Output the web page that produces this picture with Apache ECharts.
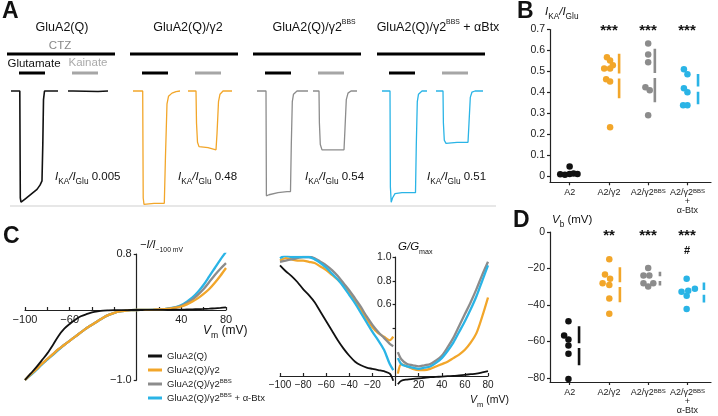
<!DOCTYPE html>
<html><head><meta charset="utf-8">
<script src="https://cdn.jsdelivr.net/npm/echarts@6/dist/echarts.min.js"></script>
<style>html,body{margin:0;padding:0;background:#fff}#c{width:718px;height:416px}</style>
</head><body><div id="c"></div>
<script>
// ================= DATA =================
const constructs = ['GluA2(Q)', 'GluA2(Q)/γ2', 'GluA2(Q)/γ2BBS', 'GluA2(Q)/γ2BBS + α-Btx'];
const panelATitles = ['GluA2(Q)', 'GluA2(Q)/γ2', 'GluA2(Q)/γ2BBS', 'GluA2(Q)/γ2BBS + αBtx'];
const groupLabels = ['A2', 'A2/γ2', 'A2/γ2BBS', 'A2/γ2BBS\n+\nα-Btx'];
const ratioValues = ['0.005', '0.48', '0.54', '0.51'];

// Panel A: application time spans (time units) and normalized currents
const ctzSpan = [0, 108];
const gluSpan = [12, 38];
const kaiSpan = [65, 91];
const traceGlu = [
  [[4,0],[12.8,0],[13.3,-1.0],[14,-1.04],[18,-1.01],[22,-0.98],[26,-0.95],[30,-0.92],[33,-0.88],[35,-0.84],[35.8,-0.5],[36.5,-0.08],[37.5,0],[51,0]],
  [[3,0],[12.7,0],[13.2,-1.0],[14,-1.06],[24,-1.05],[34.3,-1.05],[35.5,-0.6],[37,-0.12],[38.5,-0.05],[42,-0.02],[46,-0.005],[50,0]],
  [[4,0],[13,0],[13.4,-0.98],[16,-0.97],[25,-0.95],[34,-0.94],[37.5,-0.94],[38.3,-0.5],[39.3,-0.1],[40.5,-0.03],[44,0],[55,0]],
  [[5,0],[13,0],[13.4,-0.9],[14.2,-1.04],[15.5,-1.0],[18,-0.96],[25,-0.95],[38.5,-0.95],[39.3,-0.5],[40.3,-0.1],[41.5,-0.03],[45,0],[50,0]]
];
const traceKai = [
  [[61,0],[66,0],[66.5,-0.005],[91,-0.005],[91.5,0],[101,0]],
  [[58,0],[66,0],[66.5,-0.3],[67.5,-0.48],[69,-0.52],[78,-0.53],[86,-0.55],[87,-0.4],[88.5,-0.1],[90,-0.03],[93,0],[102,0]],
  [[60,0],[66,0],[66.4,-0.3],[67.3,-0.5],[69,-0.55],[80,-0.55],[91,-0.55],[92,-0.35],[93.3,-0.08],[95,-0.02],[98,0],[104,0]],
  [[59,0],[66,0],[66.4,-0.3],[67.3,-0.46],[69,-0.49],[80,-0.48],[91,-0.48],[92,-0.3],[93.3,-0.06],[95,-0.01],[98,0],[106,0]]
];

// Panel B: I_KA / I_Glu per cell
const ratioA2      = [0.008, 0.006, 0.010, 0.012, 0.010, 0.045];
const ratioG2      = [0.567, 0.552, 0.529, 0.514, 0.514, 0.462, 0.452, 0.233];
const ratioG2BBS   = [0.633, 0.581, 0.543, 0.424, 0.410, 0.290];
const ratioG2BBSBtx= [0.510, 0.486, 0.419, 0.400, 0.338, 0.338];

// Panel D: Vb (mV) per cell
const vbA2       = [-48.9, -56.7, -58.9, -62.2, -66.7, -80.5];
const vbG2       = [-15.0, -23.3, -25.6, -28.1, -29.0, -36.5, -44.8];
const vbG2BBS    = [-19.7, -23.9, -23.9, -28.1, -29.8, -28.1];
const vbG2BBSBtx = [-25.6, -32.8, -32.2, -31.1, -35.0, -42.2];

// Panel C left: normalized I-V
const ivVm = [-100,-95,-90,-85,-80,-75,-70,-65,-60,-55,-50,-45,-40,-35,-30,-25,-20,-15,-10,-5,0,5,10,15,20,25,30,35,40,45,50,55,60,65,70,75,80];
const ivA2 = [-1.0,-0.91,-0.82,-0.72,-0.62,-0.5,-0.37,-0.27,-0.2,-0.14,-0.09,-0.06,-0.035,-0.02,-0.01,-0.006,-0.003,-0.002,-0.001,0,0,0,0.001,0.001,0.002,0.002,0.003,0.004,0.005,0.007,0.009,0.012,0.015,0.019,0.024,0.03,0.037];
const ivG2 = [-1.0,-0.92,-0.85,-0.77,-0.7,-0.63,-0.56,-0.5,-0.44,-0.38,-0.32,-0.26,-0.21,-0.16,-0.11,-0.07,-0.04,-0.02,-0.01,-0.003,0,0.001,0.002,0.004,0.007,0.012,0.02,0.033,0.05,0.08,0.12,0.17,0.23,0.3,0.39,0.49,0.6];
const ivG2BBS = [-1.0,-0.92,-0.85,-0.77,-0.7,-0.63,-0.56,-0.5,-0.44,-0.38,-0.32,-0.26,-0.21,-0.16,-0.11,-0.07,-0.04,-0.02,-0.01,-0.003,0,0.001,0.002,0.004,0.007,0.013,0.022,0.037,0.06,0.1,0.15,0.22,0.3,0.4,0.5,0.59,0.67];
const ivG2BBSBtx = [-1.0,-0.93,-0.86,-0.78,-0.71,-0.64,-0.57,-0.5,-0.44,-0.38,-0.32,-0.26,-0.21,-0.16,-0.11,-0.07,-0.04,-0.02,-0.01,-0.003,0,0.001,0.002,0.004,0.008,0.014,0.025,0.042,0.07,0.12,0.18,0.26,0.36,0.48,0.6,0.72,0.83];

// Panel C right: G/Gmax (null = gap at reversal)
const gvVm = [-100,-95,-90,-85,-80,-75,-70,-65,-60,-55,-50,-45,-40,-35,-30,-25,-20,-15,-10,-5,-2,0,2,5,10,15,20,25,30,35,40,45,50,55,60,65,70,75,80];
const gvA2 = [0.93,0.88,0.84,0.79,0.73,0.68,0.62,0.54,0.46,0.38,0.3,0.23,0.17,0.12,0.09,0.07,0.06,0.05,0.04,0.02,-0.04,null,-0.07,-0.04,-0.03,-0.025,-0.02,-0.015,-0.01,-0.008,-0.005,-0.002,0,0.005,0.01,0.015,0.02,0.03,0.04];
const gvG2 = [0.97,0.99,0.98,0.97,0.97,0.96,0.95,0.92,0.89,0.85,0.81,0.76,0.7,0.63,0.56,0.48,0.41,0.36,0.33,0.3,0.33,null,0.02,0.1,0.08,0.06,0.05,0.05,0.06,0.08,0.1,0.12,0.15,0.18,0.22,0.28,0.36,0.5,0.66];
const gvG2BBS = [0.96,0.97,0.98,0.99,1.0,1.0,0.99,0.96,0.93,0.89,0.84,0.78,0.72,0.65,0.58,0.5,0.43,0.37,0.32,0.27,0.25,null,0.2,0.14,0.1,0.09,0.08,0.09,0.1,0.13,0.17,0.24,0.32,0.42,0.52,0.62,0.73,0.85,0.96];
const gvG2BBSBtx = [0.99,1.01,1.0,1.0,1.0,1.0,0.98,0.95,0.91,0.86,0.81,0.75,0.68,0.61,0.53,0.45,0.37,0.3,0.22,0.1,0.05,null,0.15,0.1,0.08,0.07,0.06,0.07,0.08,0.11,0.15,0.21,0.28,0.37,0.46,0.56,0.67,0.8,0.93];

// ================= LAYOUT / STYLE =================
const FF = 'Liberation Sans';
const COLORS = ['#111111', '#F2A62A', '#8C8C8C', '#2AB4E6'];
const ratioGroups = [ratioA2, ratioG2, ratioG2BBS, ratioG2BBSBtx];
const vbGroups = [vbA2, vbG2, vbG2BBS, vbG2BBSBtx];
const ivGroups = [ivA2, ivG2, ivG2BBS, ivG2BBSBtx];
const gvGroups = [gvA2, gvG2, gvG2BBS, gvG2BBSBtx];
// horizontal scatter placement (category units)
const B_JIT = [[-0.24,-0.12,0,0.1,0.2,0],[-0.05,0.03,0.1,-0.12,0.03,-0.07,0.03,0.03],[0,0,0,-0.07,0.04,0],[-0.09,0,-0.09,0,-0.11,0]];
const D_JIT = [[-0.03,-0.14,-0.03,-0.03,-0.03,-0.03],[0.01,-0.1,0.03,-0.16,0.01,0.01,0.01],[0,-0.12,0.03,-0.12,0,0.13],[-0.02,-0.15,0.02,0.19,-0.02,-0.02]];
const B_BAR = [0.34, 0.26, 0.17, 0.27];
const D_BAR = [0.24, 0.28, 0.3, 0.42];

const grids = [], xAxes = [], yAxes = [], series = [];
const A_LEFT = [7, 130, 253, 377];
const LVL_CTZ = 0.346, LVL_APP = 0.168;

function supFmt(s) { return s.replace(/BBS/g, '{s|BBS}'); }
function meanSd(a) {
  const m = a.reduce((p, c) => p + c, 0) / a.length;
  const v = a.reduce((p, c) => p + (c - m) * (c - m), 0) / (a.length - 1);
  return [m, Math.sqrt(v)];
}
const minus = v => (v < 0 ? '\u2212' + Math.abs(v) : String(v));

// ---- Panel A grids
for (let i = 0; i < 4; i++) {
  grids.push({left: A_LEFT[i], top: 48.2, width: 108, height: 162.6});
  xAxes.push({type: 'value', gridIndex: i, min: 0, max: 108, show: false});
  yAxes.push({type: 'value', gridIndex: i, min: -1.12, max: 0.4, show: false});
  const base = {type: 'line', xAxisIndex: i, yAxisIndex: i, showSymbol: false, silent: true, animation: false};
  series.push(Object.assign({}, base, {name: 'ctz' + i, data: [[ctzSpan[0], LVL_CTZ], [ctzSpan[1], LVL_CTZ]], lineStyle: {color: '#000', width: 2.8}, itemStyle: {color: '#000'}}));
  series.push(Object.assign({}, base, {name: 'glu' + i, data: [[gluSpan[0], LVL_APP], [gluSpan[1], LVL_APP]], lineStyle: {color: '#000', width: 2.8}, itemStyle: {color: '#000'}}));
  series.push(Object.assign({}, base, {name: 'kai' + i, data: [[kaiSpan[0], LVL_APP], [kaiSpan[1], LVL_APP]], lineStyle: {color: '#a6a6a6', width: 2.8}, itemStyle: {color: '#a6a6a6'}}));
  series.push(Object.assign({}, base, {name: 'tg' + i, data: traceGlu[i], lineStyle: {color: COLORS[i], width: i === 0 ? 1.6 : 1.3}, itemStyle: {color: COLORS[i]}}));
  series.push(Object.assign({}, base, {name: 'tk' + i, data: traceKai[i], lineStyle: {color: COLORS[i], width: i === 0 ? 1.6 : 1.3}, itemStyle: {color: COLORS[i]}}));
}

// ---- Panels B and D (grid 4, 5)
const axisLineStyle = {color: '#222', width: 1.2};
const catLabel = {
  customValues: [0, 1, 2, 3], fontSize: 9, color: '#222', margin: 6, lineHeight: 9, fontFamily: FF,
  formatter: v => supFmt(groupLabels[Math.round(v)]),
  rich: {s: {fontSize: 6, fontFamily: FF, verticalAlign: 'top', lineHeight: 5}}
};
grids.push({left: 550, top: 29.5, width: 161, height: 152.8});
grids.push({left: 550, top: 232, width: 161, height: 150});
[4, 5].forEach(g => {
  xAxes.push({type: 'value', gridIndex: g, min: -0.5, max: 3.6,
    axisLine: {show: true, onZero: false, lineStyle: axisLineStyle},
    axisTick: {show: true, customValues: [0, 1, 2, 3], length: 3, lineStyle: axisLineStyle},
    axisLabel: catLabel, splitLine: {show: false}});
});
yAxes.push({type: 'value', gridIndex: 4, min: -0.03, max: 0.7,
  axisLine: {show: true, onZero: false, lineStyle: axisLineStyle},
  axisTick: {show: true, customValues: [0, 0.1, 0.2, 0.3, 0.4, 0.5, 0.6, 0.7], length: 3, lineStyle: axisLineStyle},
  axisLabel: {customValues: [0, 0.1, 0.2, 0.3, 0.4, 0.5, 0.6, 0.7], fontSize: 10.5, color: '#222', margin: 5,
    formatter: v => (v === 0 ? '0' : v.toFixed(1))},
  splitLine: {show: false}});
yAxes.push({type: 'value', gridIndex: 5, min: -82.2, max: 0,
  axisLine: {show: true, onZero: false, lineStyle: axisLineStyle},
  axisTick: {show: true, customValues: [0, -20, -40, -60, -80], length: 3, lineStyle: axisLineStyle},
  axisLabel: {customValues: [0, -20, -40, -60, -80], fontSize: 10.5, color: '#222', margin: 5, formatter: minus},
  splitLine: {show: false}});

function addDots(g, groups, jit, barOff, gap) {
  groups.forEach((vals, k) => {
    series.push({type: 'scatter', name: 'dots' + g + k, xAxisIndex: g, yAxisIndex: g, silent: true,
      symbolSize: 6.5, itemStyle: {color: COLORS[k], opacity: 1},
      data: vals.map((v, j) => [k + jit[k][j], v])});
    const [m, sd] = meanSd(vals);
    const x = k + barOff[k];
    const ls = {type: 'line', xAxisIndex: g, yAxisIndex: g, showSymbol: false, silent: true,
      lineStyle: {color: COLORS[k], width: 2.6}, itemStyle: {color: COLORS[k]}};
    series.push(Object.assign({name: 'sdU' + g + k, data: [[x, m + sd], [x, m + gap]]}, ls));
    series.push(Object.assign({name: 'sdL' + g + k, data: [[x, m - gap], [x, m - sd]]}, ls));
  });
}
addDots(4, ratioGroups, B_JIT, B_BAR, 0.012);
addDots(5, vbGroups, D_JIT, D_BAR, 1.3);

// ---- Panel C left (grid 6): axes cross at the origin (moved with offset)
grids.push({left: 25, top: 254, width: 201, height: 126});
xAxes.push({type: 'value', gridIndex: 6, min: -100, max: 80, position: 'bottom', offset: -70,
  axisLine: {show: true, onZero: false, lineStyle: axisLineStyle},
  axisTick: {show: true, inside: true, length: 3, customValues: [-100, -80, -60, -40, -20, 20, 40, 60, 80], lineStyle: axisLineStyle},
  axisLabel: {customValues: [-100, -60, 40, 80], fontSize: 11, color: '#222', margin: 4, formatter: minus},
  splitLine: {show: false}});
yAxes.push({type: 'value', gridIndex: 6, min: -1, max: 0.8, position: 'left', offset: -111.7,
  axisLine: {show: true, onZero: false, lineStyle: axisLineStyle},
  axisTick: {show: true, length: 3, customValues: [-1, 0.8], lineStyle: axisLineStyle},
  axisLabel: {customValues: [-1, 0.8], fontSize: 11, color: '#222', margin: 5,
    formatter: v => (v < 0 ? '\u2212' : '') + Math.abs(v).toFixed(1)},
  splitLine: {show: false}});
[3, 2, 1, 0].forEach(k => {
  series.push({type: 'line', name: constructs[k], xAxisIndex: 6, yAxisIndex: 6, showSymbol: false, silent: true,
    smooth: 0.3, lineStyle: {color: COLORS[k], width: k === 0 ? 1.8 : 2.3}, itemStyle: {color: COLORS[k]},
    data: ivVm.map((v, j) => [v, ivGroups[k][j]])});
});

// ---- Panel C right (grid 7)
grids.push({left: 280, top: 257, width: 208, height: 128.5});
xAxes.push({type: 'value', gridIndex: 7, min: -100, max: 80, position: 'bottom', offset: -9.5,
  axisLine: {show: true, onZero: false, lineStyle: axisLineStyle},
  axisTick: {show: true, inside: true, length: 3, customValues: [-100, -80, -60, -40, -20, 20, 40, 60, 80], lineStyle: axisLineStyle},
  axisLabel: {customValues: [-100, -80, -60, -40, -20, 20, 40, 60, 80], fontSize: 10, color: '#222', margin: 4, formatter: minus},
  splitLine: {show: false}});
yAxes.push({type: 'value', gridIndex: 7, min: -0.08, max: 1.0, position: 'left', offset: -115.6,
  axisLine: {show: true, onZero: false, lineStyle: axisLineStyle},
  axisTick: {show: true, length: 3, customValues: [0.4, 0.6, 0.8, 1.0], lineStyle: axisLineStyle},
  axisLabel: {customValues: [0.6, 0.8, 1.0], fontSize: 10.5, color: '#222', margin: 4, formatter: v => v.toFixed(1)},
  splitLine: {show: false}});
[0, 1, 2, 3].forEach(k => {
  series.push({type: 'line', name: constructs[k], xAxisIndex: 7, yAxisIndex: 7, showSymbol: false, silent: true,
    smooth: 0.3, lineStyle: {color: COLORS[k], width: k === 0 ? 1.8 : 2.3}, itemStyle: {color: COLORS[k]},
    data: gvVm.map((v, j) => [v, gvGroups[k][j] === null ? '-' : gvGroups[k][j]])});
});

// ---- Text helpers
function richSet(base, subScale) {
  return {
    i: {fontFamily: FF, fontSize: base, fontStyle: 'italic', lineHeight: 18, verticalAlign: 'middle', fill: '#111'},
    n: {fontFamily: FF, fontSize: base, lineHeight: 18, verticalAlign: 'middle', fill: '#111'},
    sub: {fontFamily: FF, fontSize: base * (subScale || 0.72), lineHeight: 9, verticalAlign: 'bottom', fill: '#111'},
    s: {fontFamily: FF, fontSize: base * 0.55, lineHeight: 11, verticalAlign: 'top', fill: '#111'}
  };
}
function T(x, y, text, o) {
  o = o || {};
  const size = o.size || 12;
  return {type: 'text', silent: true, z: 100,
    style: {x: x, y: y, text: text, fill: o.color || '#111', fontFamily: FF, fontSize: size,
      fontWeight: o.weight || 'normal', fontStyle: o.italic ? 'italic' : 'normal',
      lineHeight: o.lh || 18,
      align: o.align || 'center', textAlign: o.align || 'center',
      verticalAlign: 'middle', textVerticalAlign: 'middle',
      rich: richSet(size, o.subScale)}};
}

const g = [];
g.push(T(2, 12, 'A', {size: 23, weight: 'bold', align: 'left'}));
g.push(T(517, 12, 'B', {size: 23, weight: 'bold', align: 'left'}));
g.push(T(3, 237, 'C', {size: 23, weight: 'bold', align: 'left'}));
g.push(T(513, 220.5, 'D', {size: 23, weight: 'bold', align: 'left'}));
const titleX = [62, 188, 314, 438];
panelATitles.forEach((t, i) => g.push(T(titleX[i], 28, supFmt(t), {size: 12.5})));
g.push(T(60, 46, 'CTZ', {size: 11.5, color: '#888'}));
g.push(T(34, 64, 'Glutamate', {size: 11.5}));
g.push(T(88, 63, 'Kainate', {size: 11.5, color: '#aaa'}));
const ratioX = [55, 178, 305, 427];
ratioValues.forEach((r, i) => g.push(T(ratioX[i], 177, '{i|I}{sub|KA}{i|/I}{sub|Glu}{n| ' + r + '}', {size: 11.5, align: 'left'})));
g.push({type: 'line', silent: true, shape: {x1: 10, y1: 206, x2: 496, y2: 206}, style: {stroke: '#cfcfcf', lineWidth: 1}});

// B annotations
g.push(T(545, 12, '{i|I}{sub|KA}{i|/I}{sub|Glu}', {size: 11.5, align: 'left'}));
[609, 648, 687].forEach(x => g.push(T(x, 31, '***', {size: 15, weight: 'bold'})));
// D annotations
g.push(T(552, 220, '{i|V}{sub|b}{n| (mV)}', {size: 11.5, align: 'left'}));
g.push(T(609, 236, '**', {size: 15, weight: 'bold'}));
g.push(T(648, 236, '***', {size: 15, weight: 'bold'}));
g.push(T(687, 236, '***', {size: 15, weight: 'bold'}));
g.push(T(687, 251, '#', {size: 11, weight: 'bold'}));
// C left
g.push(T(140, 245, '{i|\u2212I/I}{sub|\u2212100 mV}', {size: 11, align: 'left', subScale: 0.62}));
g.push(T(203, 331, '{i|V}{sub|m}{n| (mV)}', {size: 12, align: 'left'}));
// C right
g.push(T(398, 247, '{i|G/G}{sub|max}', {size: 11.5, align: 'left', subScale: 0.62}));
g.push(T(470, 400, '{i|V}{sub|m}{n| (mV)}', {size: 10.5, align: 'left'}));

const option = {
  animation: false,
  textStyle: {fontFamily: FF},
  grid: grids, xAxis: xAxes, yAxis: yAxes, series: series,
  legend: {
    data: constructs, orient: 'vertical', left: 148, top: 350, padding: 0,
    itemWidth: 14, itemHeight: 3, itemGap: 2, icon: 'rect', selectedMode: false,
    formatter: n => supFmt(n),
    textStyle: {fontSize: 9.5, fontFamily: FF, color: '#222', lineHeight: 12,
      rich: {s: {fontSize: 6, fontFamily: FF, color: '#222', verticalAlign: 'top', lineHeight: 6}}}
  },
  graphic: {elements: g}
};
const chart = echarts.init(document.getElementById('c'), null, {renderer: 'canvas'});
chart.setOption(option);
</script>
</body></html>
